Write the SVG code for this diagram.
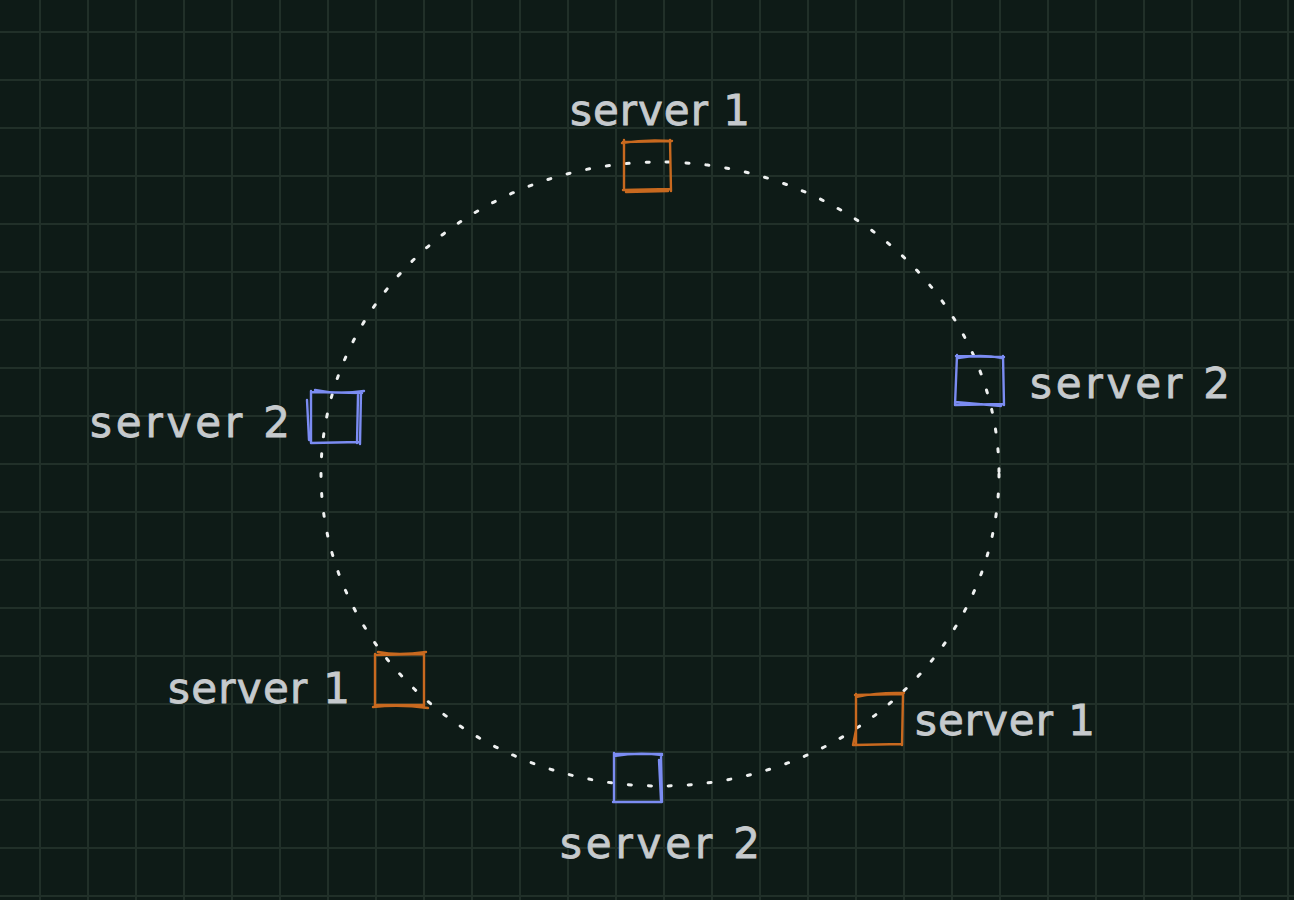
<svg xmlns="http://www.w3.org/2000/svg" width="1294" height="900" viewBox="0 0 1294 900">
<defs>
<pattern id="grid" x="-8" y="-16" width="48" height="48" patternUnits="userSpaceOnUse">
<rect x="47" y="0" width="2" height="48" fill="#213029"/>
<rect x="0" y="47" width="48" height="2" fill="#213029"/>
</pattern>
</defs>
<style>
.lbl{font-family:"DejaVu Sans","Liberation Sans",Arial,sans-serif;font-size:42px;fill:#c6cacd;stroke:#c6cacd;stroke-width:0.8;}
.or{fill:none;stroke:#c8691f;stroke-width:2.4;stroke-linecap:round;stroke-linejoin:round;}
.bl{fill:none;stroke:#7b8cf2;stroke-width:2.4;stroke-linecap:round;stroke-linejoin:round;}
.ring{fill:none;stroke:#eef0f0;stroke-width:3;stroke-dasharray:3 17;stroke-linecap:round;}
</style>
<rect width="1294" height="900" fill="#0e1b17"/>
<g id="grid-lines" stroke="#213029" stroke-width="2">
<path d="M40 0V900M88 0V900M136 0V900M184 0V900M232 0V900M280 0V900M328 0V900M376 0V900M424 0V900M472 0V900M520 0V900M568 0V900M616 0V900M664 0V900M712 0V900M760 0V900M808 0V900M856 0V900M904 0V900M952 0V900M1000 0V900M1048 0V900M1096 0V900M1144 0V900M1192 0V900M1240 0V900M1288 0V900"/>
<path d="M0 32H1294M0 80H1294M0 128H1294M0 176H1294M0 224H1294M0 272H1294M0 320H1294M0 368H1294M0 416H1294M0 464H1294M0 512H1294M0 560H1294M0 608H1294M0 656H1294M0 704H1294M0 752H1294M0 800H1294M0 848H1294M0 896H1294"/>
</g>
<g id="connectors">
<ellipse class="ring" cx="660" cy="474" rx="339" ry="312"/>
</g>
<g id="s1-top">
<path class="or" d="M623 142 L671 141 M624 140 L624 190 M623 190 L671 189 M670 140 L671 191 M622 143 Q646 139 672 141 M626 192 L668 191"/>
<text class="lbl" x="570" y="125" textLength="180" lengthAdjust="spacing">server 1</text>
</g>
<g id="s2-right">
<path class="bl" d="M956 356 L1004 357 M957 355 L955 405 M956 405 L1004 404 M1003 356 L1004 405 M958 358 Q980 354 1002 358 M955 402 L1001 406"/>
<text class="lbl" x="1030" y="398" textLength="200" lengthAdjust="spacing">server 2</text>
</g>
<g id="s2-left">
<path class="bl" d="M312 392 L362 393 M311 391 L311 443 M311 443 L360 442 M361 392 L360 444 M315 390 Q338 395 364 391 M307 400 L309 440 M358 395 L357 443"/>
<text class="lbl" x="90" y="437" textLength="200" lengthAdjust="spacing">server 2</text>
</g>
<g id="s1-bl">
<path class="or" d="M375 655 L424 654 M375 654 L375 706 M375 705 L424 705 M424 653 L424 706 M378 652 Q398 656 426 652 M373 707 Q400 704 428 708"/>
<text class="lbl" x="168" y="703" textLength="182" lengthAdjust="spacing">server 1</text>
</g>
<g id="s1-br">
<path class="or" d="M855 695 L903 694 M856 694 L856 745 M854 745 L902 744 M903 694 L902 745 M856 697 Q880 692 904 693 M853 745 L856 730"/>
<text class="lbl" x="915" y="735" textLength="180" lengthAdjust="spacing">server 1</text>
</g>
<g id="s2-bottom">
<path class="bl" d="M614 754 L662 754 M614 753 L614 802 M613 802 L661 802 M661 754 L662 802 M614 756 Q638 752 662 755 M659 760 L661 800"/>
<text class="lbl" x="560" y="858" textLength="200" lengthAdjust="spacing">server 2</text>
</g>
</svg>
